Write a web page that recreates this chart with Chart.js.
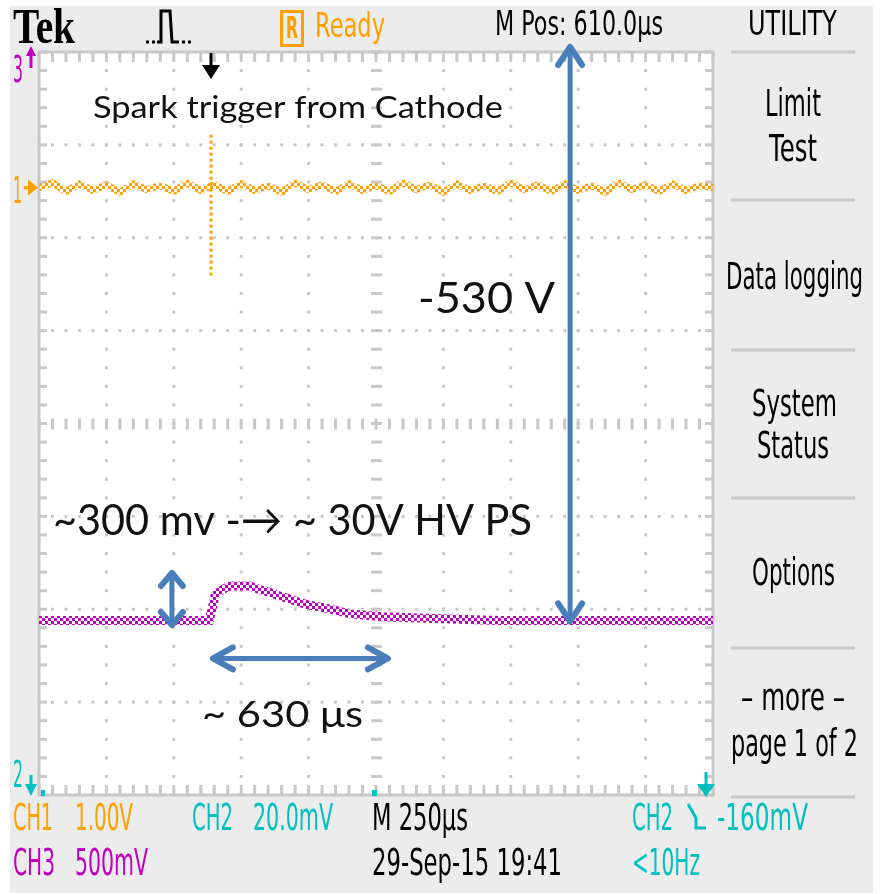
<!DOCTYPE html>
<html>
<head>
<meta charset="utf-8">
<script src="https://cdn.jsdelivr.net/npm/chart.js@4"></script>
<style>
  html, body { margin: 0; padding: 0; background: #fff; }
  canvas { display: block; }
</style>
</head>
<body>
<canvas id="scope" width="884" height="894"></canvas>
<script>
// horizontal: 10 div x 250 us, vertical: 8 div
const timeSpan = 2500;
const usPerDiv = 250;

// CH1 (orange) trace, screen divisions from centre
const ch1Time = [0, 50, 100, 150, 200, 250, 300, 350, 400, 450, 500, 550, 600, 650, 700, 750, 800, 850, 900, 950,
  1000, 1050, 1100, 1150, 1200, 1250, 1300, 1350, 1400, 1450, 1500, 1550, 1600, 1650, 1700, 1750, 1800, 1850, 1900, 1950,
  2000, 2050, 2100, 2150, 2200, 2250, 2300, 2350, 2400, 2450, 2500];
const ch1Div = [2.54, 2.59, 2.50, 2.58, 2.51, 2.57, 2.49, 2.58, 2.52, 2.56, 2.50, 2.59, 2.51, 2.57, 2.50, 2.58, 2.51, 2.56, 2.49, 2.59,
  2.52, 2.57, 2.50, 2.58, 2.51, 2.56, 2.50, 2.59, 2.52, 2.57, 2.49, 2.58, 2.51, 2.56, 2.50, 2.59, 2.52, 2.57, 2.50, 2.58,
  2.51, 2.56, 2.49, 2.59, 2.52, 2.57, 2.50, 2.58, 2.51, 2.56, 2.54];

// spark spike on CH1 at the trigger point
const spikeTime = [638, 638];
const spikeDiv = [3.11, 1.58];

// CH3 (magenta) trace
const ch3Time = [0, 300, 600, 631, 642, 653, 679, 708, 783, 820, 857, 883, 920, 957, 994, 1068, 1154, 1276, 1461, 1710, 2100, 2500];
const ch3Div = [-2.12, -2.12, -2.12, -2.12, -2.00, -1.85, -1.79, -1.75, -1.75, -1.79, -1.82, -1.85, -1.88, -1.92, -1.95, -1.99, -2.05, -2.08, -2.10, -2.12, -2.12, -2.12];

const ORANGE = '#ffa000';
const CYAN = '#00c0c0';
const MAGENTA = '#c000c0';
const GRID = '#c8c8c8';
const PANEL = '#ececec';
const BLUE = '#4a7ebb';

// pixel checkerboard, like the scope's dotted trace
function checker(color) {
  const c = document.createElement('canvas');
  c.width = 6; c.height = 6;
  const g = c.getContext('2d');
  g.fillStyle = color;
  g.fillRect(0, 0, 3, 3);
  g.fillRect(3, 3, 3, 3);
  return g.createPattern(c, 'repeat');
}

function fitText(ctx, str, x, base, w, size, color, family, weight) {
  ctx.save();
  ctx.font = (weight || 'normal') + ' ' + size + 'px ' + (family || '"DejaVu Sans"');
  ctx.fillStyle = color;
  ctx.textAlign = 'left';
  ctx.textBaseline = 'alphabetic';
  const m = ctx.measureText(str).width;
  ctx.translate(x, base);
  ctx.scale(w / m, 1);
  ctx.fillText(str, 0, 0);
  ctx.restore();
}

function tri(ctx, pts, color) {
  ctx.fillStyle = color;
  ctx.beginPath();
  ctx.moveTo(pts[0], pts[1]);
  ctx.lineTo(pts[2], pts[3]);
  ctx.lineTo(pts[4], pts[5]);
  ctx.closePath();
  ctx.fill();
}

function seg(ctx, x1, y1, x2, y2, w, color) {
  ctx.strokeStyle = color;
  ctx.lineWidth = w;
  ctx.beginPath();
  ctx.moveTo(x1, y1);
  ctx.lineTo(x2, y2);
  ctx.stroke();
}

// double headed open arrow (PowerPoint style)
function arrow2(ctx, x1, y1, x2, y2, len, spread) {
  ctx.save();
  ctx.strokeStyle = BLUE;
  ctx.lineWidth = 5;
  ctx.lineCap = 'round';
  ctx.lineJoin = 'round';
  ctx.beginPath();
  ctx.moveTo(x1, y1);
  ctx.lineTo(x2, y2);
  ctx.stroke();
  ctx.lineWidth = 6;
  const d = Math.hypot(x2 - x1, y2 - y1);
  const ux = (x2 - x1) / d, uy = (y2 - y1) / d;
  const nx = -uy, ny = ux;
  [[x1, y1, -1], [x2, y2, 1]].forEach(([px, py, s]) => {
    ctx.beginPath();
    ctx.moveTo(px - s * ux * len + nx * spread, py - s * uy * len + ny * spread);
    ctx.lineTo(px, py);
    ctx.lineTo(px - s * ux * len - nx * spread, py - s * uy * len - ny * spread);
    ctx.stroke();
  });
  ctx.restore();
}

const scopeScreen = {
  id: 'scopeScreen',
  beforeDraw(chart) {
    const ctx = chart.ctx;
    const a = chart.chartArea;
    const xs = chart.scales.x, ys = chart.scales.y;
    ctx.save();
    ctx.fillStyle = '#fff';
    ctx.fillRect(0, 0, chart.width, chart.height);
    ctx.fillStyle = PANEL;
    ctx.fillRect(10, 6, 863, 887);
    ctx.fillStyle = '#fff';
    ctx.fillRect(a.left, a.top, a.right - a.left, a.bottom - a.top);

    // graticule
    const minorX = [], minorY = [];
    for (let t = 0; t <= timeSpan; t += usPerDiv / 5) minorX.push(xs.getPixelForValue(t));
    for (let i = -20; i <= 20; i++) minorY.push(ys.getPixelForValue(i / 5));
    const cx = xs.getPixelForValue(timeSpan / 2), cy = ys.getPixelForValue(0);
    ctx.fillStyle = GRID;
    minorX.forEach(x => {
      ctx.fillRect(x - 1.5, a.top, 3, 10);
      ctx.fillRect(x - 1.5, a.bottom - 10, 3, 10);
      ctx.fillRect(x - 1.5, cy - 5, 3, 11);
    });
    minorY.forEach(y => {
      ctx.fillRect(a.left, y - 1.5, 8, 3);
      ctx.fillRect(a.right - 8, y - 1.5, 8, 3);
      ctx.fillRect(cx - 5, y - 1.5, 11, 3);
    });
    for (let k = 1; k < 10; k++) {
      if (k === 5) continue;
      const x = xs.getPixelForValue(k * usPerDiv);
      minorY.forEach(y => ctx.fillRect(x - 1.5, y - 1.5, 3, 3));
    }
    for (let d = -3; d <= 3; d++) {
      if (d === 0) continue;
      const y = ys.getPixelForValue(d);
      minorX.forEach(x => ctx.fillRect(x - 1.5, y - 1.5, 3, 3));
    }
    ctx.strokeStyle = GRID;
    ctx.lineWidth = 3;
    ctx.strokeRect(a.left, a.top, a.right - a.left, a.bottom - a.top);
    ctx.restore();
  },
  afterDatasetsDraw(chart) {
    const ctx = chart.ctx;
    const xs = chart.scales.x, ys = chart.scales.y;
    const px = t => xs.getPixelForValue(t);
    const py = d => ys.getPixelForValue(d);
    ctx.save();

    // trigger position marker
    const trigX = px(spikeTime[0]);
    seg(ctx, trigX, 53, trigX, 68, 3, '#000');
    tri(ctx, [trigX - 9, 65, trigX + 9, 65, trigX, 79], '#000');

    // channel markers
    fitText(ctx, '3', 13, 82, 10, 38, MAGENTA);
    seg(ctx, 31, 68, 31, 52, 3, MAGENTA);
    tri(ctx, [26, 56, 36, 56, 31, 46], MAGENTA);
    fitText(ctx, '1', 13, 203, 9, 38, ORANGE);
    seg(ctx, 24, py(2.54), 36, py(2.54), 3, ORANGE);
    tri(ctx, [28, py(2.54) - 8, 28, py(2.54) + 8, 38, py(2.54)], ORANGE);
    fitText(ctx, '2', 13, 787, 10, 38, CYAN);
    seg(ctx, 31, 775, 31, 788, 3, CYAN);
    tri(ctx, [25, 784, 37, 784, 31, 796], CYAN);
    seg(ctx, 706, 772, 706, 788, 3, CYAN);
    tri(ctx, [697, 784, 715, 784, 706, 797], CYAN);
    ctx.fillStyle = CYAN;
    ctx.fillRect(41, 790, 4, 6);
    ctx.fillRect(372, 790, 5, 6);

    // annotations
    fitText(ctx, 'Spark trigger from Cathode', 93, 118, 410, 31, '#111', 'Lato');
    fitText(ctx, '-530 V', 418, 313, 137, 43, '#111', 'Lato');
    fitText(ctx, '~300 mv -\u2192 ~ 30V HV PS', 53, 535, 479, 43, '#111', 'Lato');
    fitText(ctx, '~ 630 \u03bcs', 202, 727, 161, 36, '#111', 'Lato');

    arrow2(ctx, px(1970), 47, px(1970), py(-2.13), 18, 12);
    arrow2(ctx, px(493), py(-1.61), px(493), py(-2.17), 13, 11);
    arrow2(ctx, px(645), py(-2.53), px(1294), py(-2.53), 20, 11);
    ctx.restore();
  },
  afterDraw(chart) {
    const ctx = chart.ctx;
    ctx.save();
    // top bar
    fitText(ctx, 'Tek', 13, 43, 62, 50, '#000', '"Liberation Serif"', 'bold');
    ctx.strokeStyle = '#000';
    ctx.lineWidth = 3;
    ctx.setLineDash([3, 3]);
    ctx.beginPath();
    ctx.moveTo(146, 42); ctx.lineTo(158, 42);
    ctx.moveTo(176, 42); ctx.lineTo(194, 42);
    ctx.stroke();
    ctx.setLineDash([]);
    ctx.beginPath();
    ctx.moveTo(157, 42); ctx.lineTo(161, 42); ctx.lineTo(161, 11);
    ctx.lineTo(170, 11); ctx.lineTo(172, 42); ctx.lineTo(176, 42);
    ctx.stroke();

    ctx.strokeStyle = ORANGE;
    ctx.lineWidth = 3;
    ctx.strokeRect(281.5, 11.5, 21, 34);
    fitText(ctx, 'R', 286, 38, 12, 30, ORANGE, null, 'bold');
    fitText(ctx, 'Ready', 315, 37, 70, 34, ORANGE);
    fitText(ctx, 'M Pos: 610.0\u00b5s', 495, 35, 168, 34, '#000');
    fitText(ctx, 'UTILITY', 748, 35, 89, 34, '#000');

    // side menu
    ctx.fillStyle = GRID;
    [52, 200, 350, 498, 648, 797].forEach(y => ctx.fillRect(731, y - 1.5, 124, 3));
    const menu = [
      ['Limit', 765, 116, 56], ['Test', 769, 161, 48],
      ['Data logging', 726, 289, 137],
      ['System', 752, 416, 85], ['Status', 757, 458, 72],
      ['Options', 752, 585, 83],
      ['\u2013 more \u2013', 741, 710, 104], ['page 1 of 2', 731, 756, 127]
    ];
    menu.forEach(m => fitText(ctx, m[0], m[1], m[2], m[3], 37, '#000'));

    // status lines
    fitText(ctx, 'CH1', 13, 830, 40, 38, ORANGE);
    fitText(ctx, '1.00V', 75, 830, 58, 38, ORANGE);
    fitText(ctx, 'CH2', 192, 830, 41, 38, CYAN);
    fitText(ctx, '20.0mV', 253, 830, 80, 38, CYAN);
    fitText(ctx, 'M 250\u00b5s', 372, 830, 96, 38, '#000');
    fitText(ctx, 'CH2', 632, 830, 41, 38, CYAN);
    ctx.strokeStyle = CYAN;
    ctx.lineWidth = 3;
    ctx.beginPath();
    ctx.moveTo(688, 804); ctx.lineTo(696, 818); ctx.lineTo(696, 828); ctx.lineTo(706, 828);
    ctx.stroke();
    fitText(ctx, '-160mV', 717, 830, 91, 38, CYAN);
    fitText(ctx, 'CH3', 13, 875, 42, 38, MAGENTA);
    fitText(ctx, '500mV', 75, 875, 73, 38, MAGENTA);
    fitText(ctx, '29-Sep-15 19:41', 372, 875, 190, 38, '#000');
    fitText(ctx, '<10Hz', 632, 875, 68, 38, CYAN);
    ctx.restore();
  }
};

new Chart(document.getElementById('scope'), {
  type: 'line',
  data: {
    datasets: [
      {
        label: 'CH3',
        data: ch3Time.map((t, i) => ({ x: t, y: ch3Div[i] })),
        borderColor: checker(MAGENTA),
        borderWidth: 9,
        pointRadius: 0,
        tension: 0
      },
      {
        label: 'CH1',
        data: ch1Time.map((t, i) => ({ x: t, y: ch1Div[i] })),
        borderColor: checker(ORANGE),
        borderWidth: 7,
        pointRadius: 0,
        tension: 0
      },
      {
        label: 'CH1 spike',
        data: spikeTime.map((t, i) => ({ x: t, y: spikeDiv[i] })),
        borderColor: ORANGE,
        borderWidth: 3,
        borderDash: [3, 3],
        pointRadius: 0
      }
    ]
  },
  options: {
    responsive: false,
    animation: false,
    events: [],
    layout: { padding: { left: 39, top: 52, right: 171, bottom: 99 } },
    scales: {
      x: { type: 'linear', min: 0, max: timeSpan, display: false },
      y: { min: -4, max: 4, display: false }
    },
    plugins: {
      legend: { display: false },
      tooltip: { enabled: false }
    }
  },
  plugins: [scopeScreen]
});
</script>
</body>
</html>
